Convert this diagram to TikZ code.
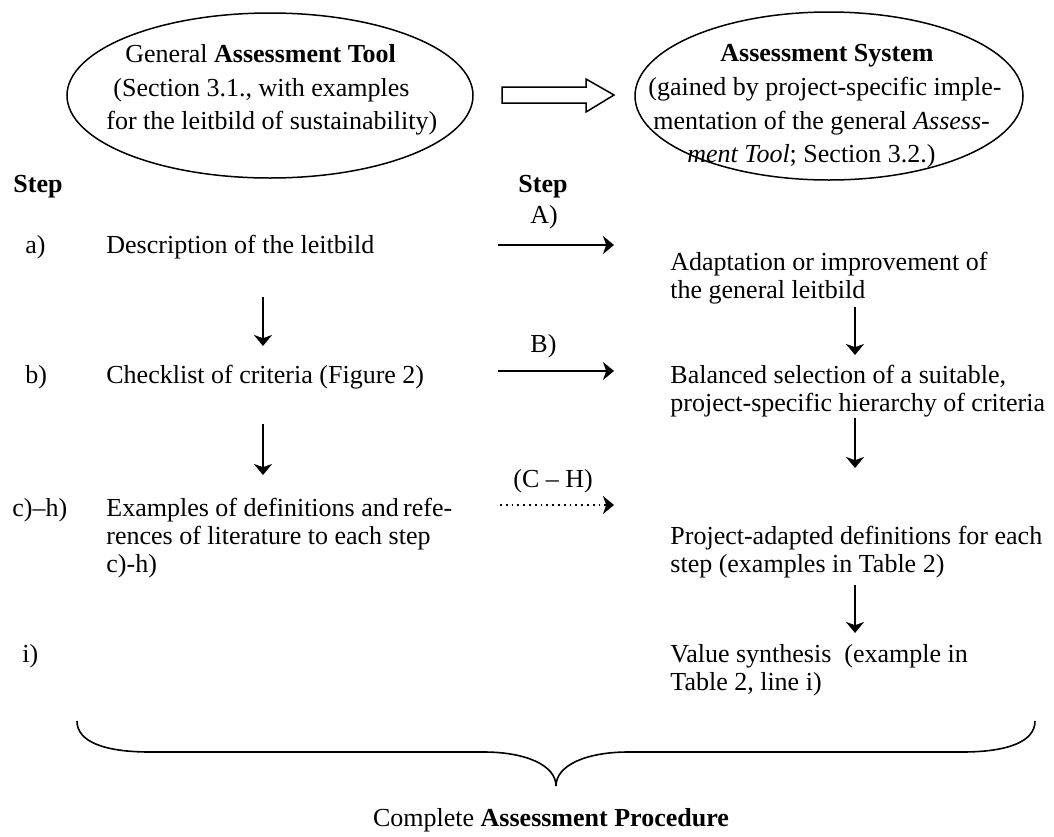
\documentclass[tikz,border=0pt]{standalone}
\usepackage{fontspec}
\setmainfont{Liberation Serif}
\usetikzlibrary{arrows.meta,shapes.geometric}
\begin{document}
\begin{tikzpicture}[x=0.5pt,y=-0.5pt,
  txt/.style={anchor=base west,inner sep=0pt,font=\fontsize{13}{14}\selectfont},
  oval/.style={ellipse,draw,line width=0.75pt,inner sep=0pt},
  arr/.style={line width=0.9pt,-{Stealth[length=5.5pt,width=9pt,inset=1.6pt]}},
  dotarr/.style={line width=0.9pt,dotted,-{Stealth[length=5.5pt,width=9pt,inset=1.6pt]}},
  blockarrow/.style={draw,line width=0.75pt,fill=white},
  brace/.style={line width=0.8pt}]
\useasboundingbox (0,0) rectangle (1054,836);
% ellipses
\node[oval,minimum width=203pt,minimum height=82.5pt] (e1) at (270,95.5) {};
\node[oval,minimum width=194pt,minimum height=84pt] (e2) at (829,96) {};
\node[txt] (e1l1) at (125,62) {General \textbf{Assessment Tool}};
\node[txt] (e1l2) at (113,96) {(Section 3.1., with examples};
\node[txt] (e1l3) at (106,129) {for the leitbild of sustainability)};
\node[txt] (e2l1) at (720,61) {\textbf{Assessment System}};
\node[txt] (e2l2) at (648,95) {(gained by project-specific imple-};
\node[txt] (e2l3) at (653,129) {mentation of the general \textit{Assess-}};
\node[txt] (e2l4) at (687,162) {\textit{ment Tool}; Section 3.2.)};
% block arrow
\draw[blockarrow] (502,87) -- (586,87) -- (586,79) -- (614,95) -- (586,112) -- (586,103) -- (502,103) -- cycle;
% step headers
\node[txt] (stepL) at (13,192) {\textbf{Step}};
\node[txt] (stepR) at (518,192) {\textbf{Step}};
% row a
\node[txt] (ra) at (25,253) {a)};
\node[txt] (desc) at (106,253) {Description of the leitbild};
\node[txt] (lblA) at (530,223) {A)};
\coordinate (aS) at (498,245);
\coordinate (aE) at (614,245);
\draw[arr] (aS) -- (aE);
\node[txt] (adap1) at (670,270) {Adaptation or improvement of};
\node[txt] (adap2) at (670,298) {the general leitbild};
% vertical arrows
\coordinate (lv1s) at (263,297); \coordinate (lv1e) at (263,346);
\draw[arr] (lv1s) -- (lv1e);
\coordinate (rv1s) at (855,307); \coordinate (rv1e) at (855,355);
\draw[arr] (rv1s) -- (rv1e);
% row b
\node[txt] (rb) at (25,383) {b)};
\node[txt] (check) at (106,383) {Checklist of criteria (Figure 2)};
\node[txt] (lblB) at (530,352) {B)};
\coordinate (bS) at (498,371);
\coordinate (bE) at (614,371);
\draw[arr] (bS) -- (bE);
\node[txt] (bal1) at (670,383) {Balanced selection of a suitable,};
\node[txt] (bal2) at (670,411) {project-specific hierarchy of criteria};
\coordinate (lv2s) at (263,424); \coordinate (lv2e) at (263,475);
\draw[arr] (lv2s) -- (lv2e);
\coordinate (rv2s) at (855,418); \coordinate (rv2e) at (855,468);
\draw[arr] (rv2s) -- (rv2e);
% row c-h
\node[txt] (rc) at (12,516) {c)--h)};
\node[txt] (ex1) at (106,516) {Examples of definitions and\,refe-};
\node[txt] (ex2) at (106,544) {rences of literature to each step};
\node[txt] (ex3) at (106,572) {c)-h)};
\node[txt] (lblC) at (513,487) {(C -- H)};
\coordinate (cS) at (500,505);
\coordinate (cE) at (614,505);
\draw[dotarr] (cS) -- (cE);
\node[txt] (pa1) at (670,544) {Project-adapted definitions for each};
\node[txt] (pa2) at (670,572) {step (examples in Table 2)};
\coordinate (rv3s) at (855,585); \coordinate (rv3e) at (855,633);
\draw[arr] (rv3s) -- (rv3e);
% row i
\node[txt] (ri) at (22,662) {i)};
\node[txt] (vs1) at (670,662) {Value synthesis\ \ (example in};
\node[txt] (vs2) at (670,690) {Table 2, line i)};
% brace
\coordinate (brL) at (77,721);
\coordinate (brT) at (556,786);
\coordinate (brR) at (1035,721);
\draw[brace] (brL) .. controls (77,742) and (105,752) .. (150,752) -- (484,752)
  .. controls (525,752) and (556,765) .. (brT)
  .. controls (556,765) and (587,752) .. (628,752) -- (962,752)
  .. controls (1007,752) and (1035,742) .. (brR);
\node[txt,anchor=base] (proc) at (551,826) {Complete \textbf{Assessment Procedure}};
\end{tikzpicture}
\end{document}
